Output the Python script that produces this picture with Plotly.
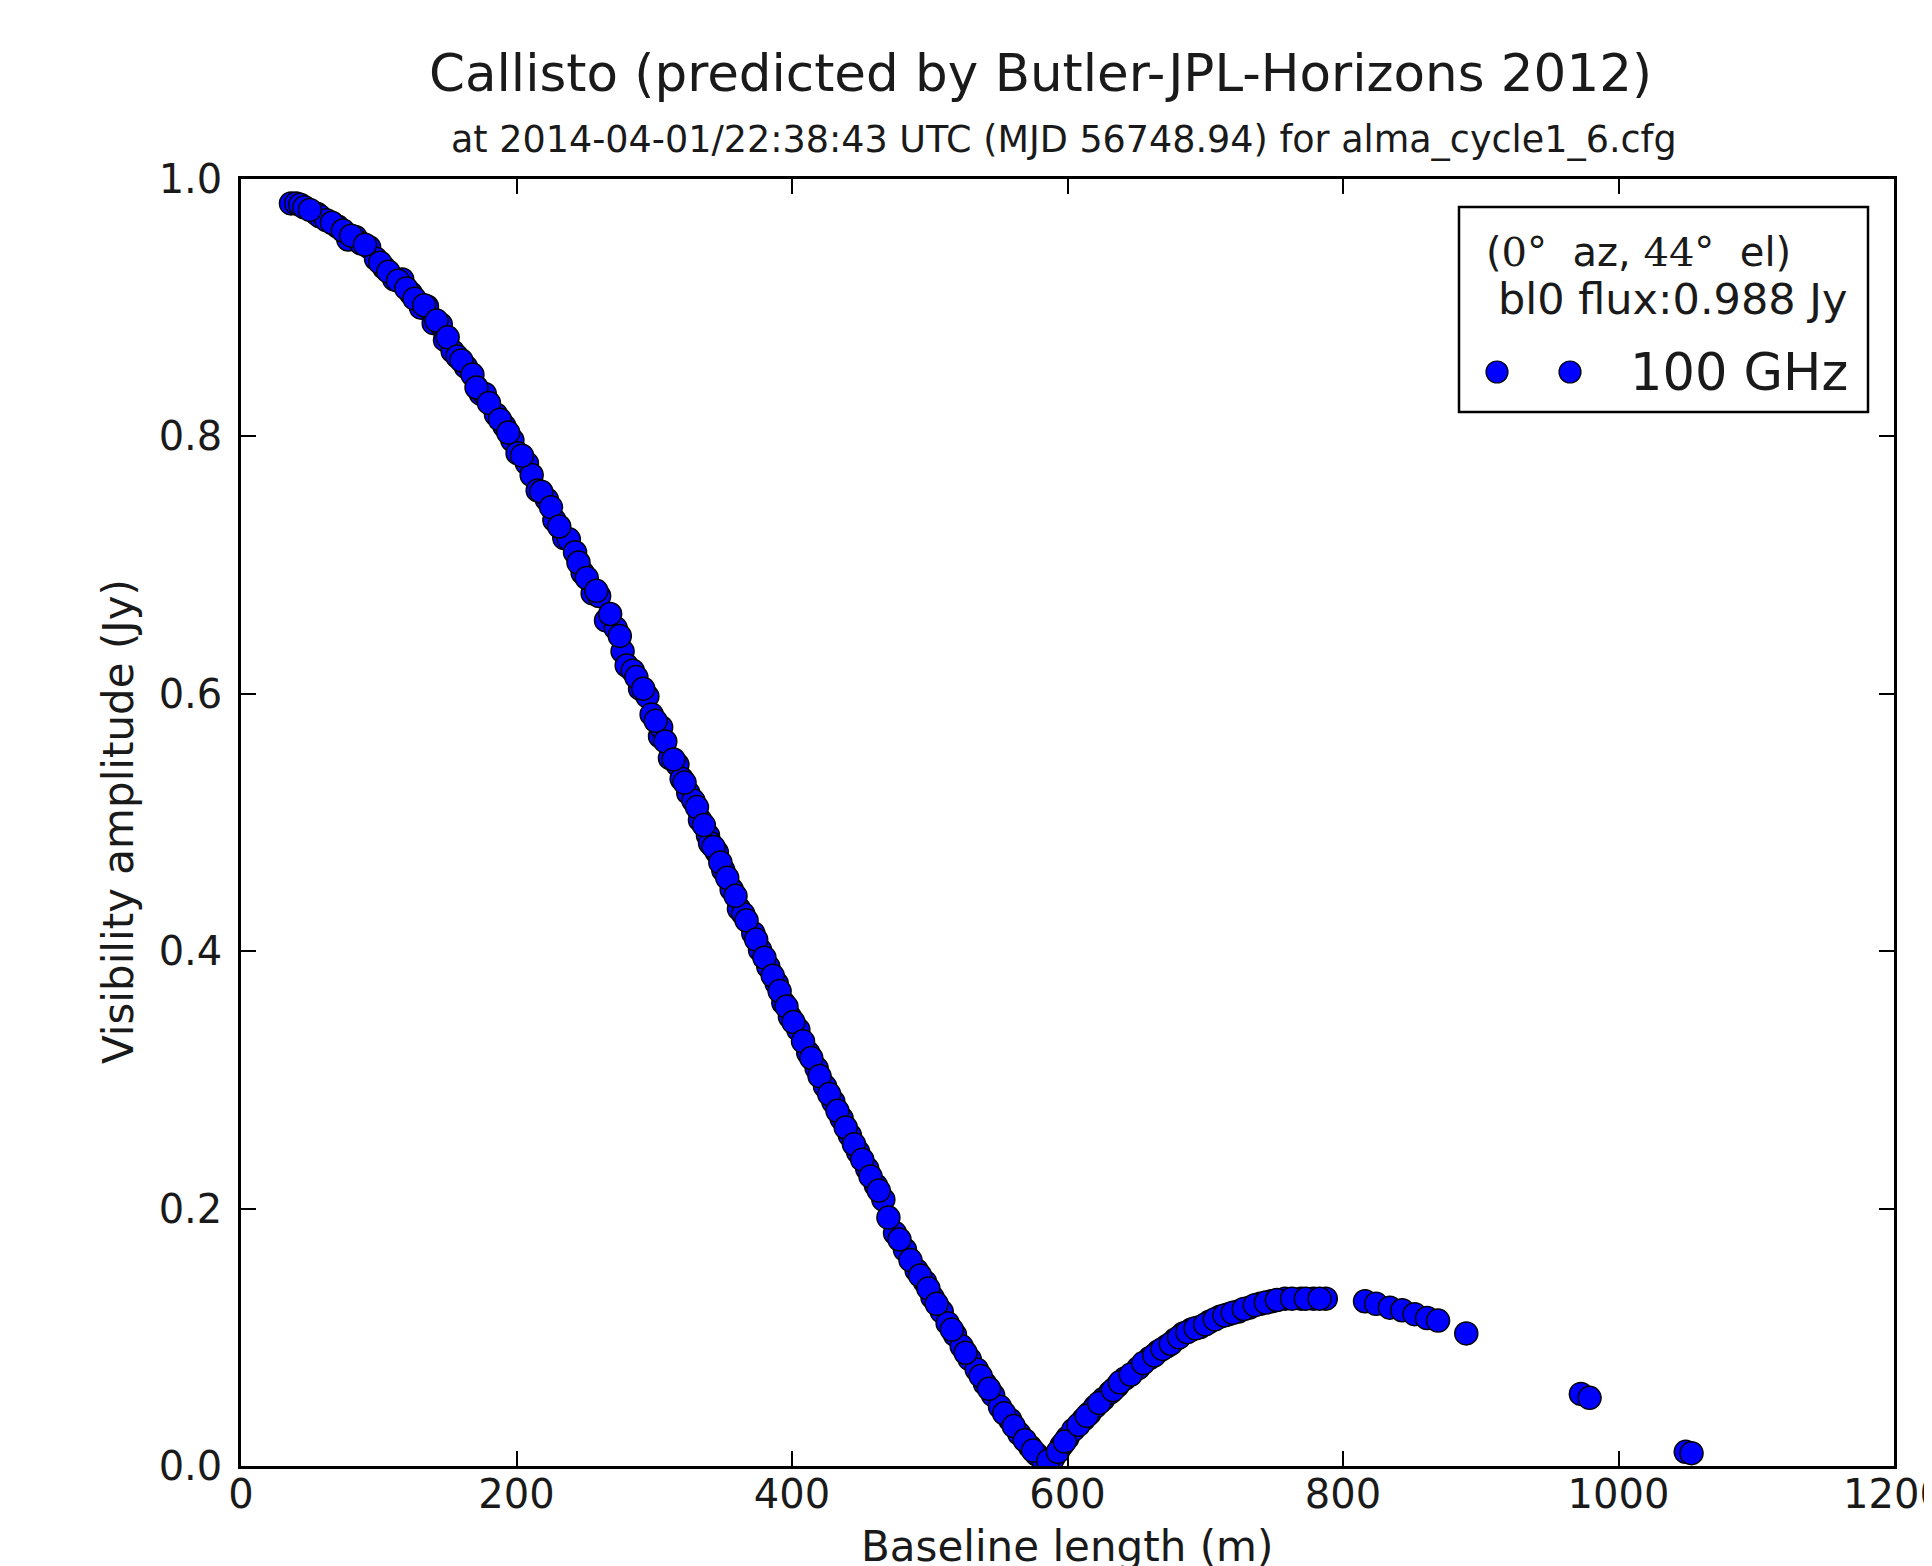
import plotly.graph_objects as go

# ---- data ----
baseline_m = [
    36.3, 40, 43, 55, 57.3, 62, 70.2, 77.9, 83, 87.1, 93, 98, 104, 111.3, 117,
    123.4, 130.7, 135, 139.9, 145, 148.1, 153.7, 163.3, 174.2, 177, 185.1,
    191.2, 197, 200.8, 207.6, 211, 215.4, 222, 227.5, 234.7, 238, 242.5, 248,
    255.3, 260, 265, 272, 277, 280, 284.4, 289.7, 295, 298.1, 304.2, 305,
    311.4, 316.8, 319.9, 324.7, 328.4, 333.2, 339, 340.5, 345.4, 350.1, 356.2,
    361.5, 364.6, 371.9, 376.8, 382.8, 388.9, 393.7, 398.5, 404.6, 411.8,
    417.9, 424, 430, 436, 442, 448, 454.6, 460.9, 466.3, 474.8, 482, 490.5,
    496.6, 502, 508.7, 513, 518.3, 523.2, 529, 534.1, 540.1, 546, 551, 558.3,
    565, 572.8, 577.6, 582, 589.7, 595.8, 600, 604.2, 611.5, 616, 620, 626,
    630.9, 636, 641.7, 651.4, 659.9, 666, 672, 678, 684.1, 690, 696.2, 703,
    710.7, 717, 724, 732, 739.8, 748, 757.9, 769.6, 778.5, 787.5, 816, 824,
    834, 843, 852, 861, 869, 889.5, 972.7, 979, 1048.8, 1053,
    # further baselines in the dense band
    46, 50, 66, 74, 80, 90, 101, 107, 114, 120, 126, 133, 142, 150, 157, 160,
    168, 171, 180, 188, 194, 204, 218, 225, 231, 245, 251, 258, 268, 275, 287,
    292, 301, 308, 314, 322, 331, 336, 343, 348, 353, 359, 367, 374, 380, 386,
    391, 396, 401, 408, 414, 420, 427, 433, 439, 445, 451, 457, 463, 470, 478,
    486, 493, 499, 505, 516, 526, 537, 543, 554, 561, 569, 575, 586, 593, 598,
    608, 614, 623, 633, 638, 646, 655, 663, 669, 675, 681, 687, 693, 700, 707,
    714, 720, 728, 736, 744, 752, 763, 773, 783,
]
amplitude_jy = [
    0.981, 0.981, 0.980, 0.973, 0.971, 0.968, 0.963, 0.953, 0.955, 0.950,
    0.947, 0.938, 0.931, 0.922, 0.922, 0.911, 0.900, 0.901, 0.888, 0.887,
    0.875, 0.866, 0.854, 0.833, 0.833, 0.817, 0.808, 0.797, 0.787, 0.779,
    0.770, 0.758, 0.751, 0.735, 0.721, 0.720, 0.710, 0.694, 0.678, 0.676,
    0.657, 0.651, 0.633, 0.622, 0.618, 0.604, 0.598, 0.584, 0.567, 0.574,
    0.550, 0.545, 0.534, 0.523, 0.517, 0.502, 0.490, 0.484, 0.477, 0.463,
    0.448, 0.433, 0.429, 0.414, 0.401, 0.388, 0.375, 0.360, 0.349, 0.339,
    0.321, 0.309, 0.295, 0.283, 0.270, 0.257, 0.244, 0.231, 0.218, 0.207,
    0.181, 0.168, 0.152, 0.143, 0.131, 0.120, 0.111, 0.102, 0.093, 0.083,
    0.075, 0.064, 0.055, 0.046, 0.036, 0.025, 0.015, 0.009, 0.005, 0.006,
    0.016, 0.022, 0.028, 0.036, 0.041, 0.046, 0.052, 0.057, 0.062, 0.068,
    0.076, 0.084, 0.089, 0.093, 0.098, 0.103, 0.106, 0.108, 0.112, 0.116,
    0.118, 0.120, 0.123, 0.126, 0.128, 0.130, 0.130, 0.130, 0.130, 0.128,
    0.126, 0.123, 0.121, 0.118, 0.115, 0.113, 0.103, 0.056, 0.053, 0.011,
    0.010,
    # further amplitudes in the dense band
    0.978, 0.976, 0.966, 0.960, 0.956, 0.949, 0.935, 0.928, 0.921, 0.915,
    0.907, 0.902, 0.890, 0.877, 0.862, 0.859, 0.848, 0.838, 0.826, 0.813,
    0.803, 0.785, 0.757, 0.745, 0.730, 0.702, 0.690, 0.680, 0.662, 0.645,
    0.613, 0.604, 0.579, 0.563, 0.549, 0.531, 0.512, 0.498, 0.481, 0.469,
    0.457, 0.443, 0.424, 0.409, 0.395, 0.381, 0.369, 0.357, 0.345, 0.330,
    0.317, 0.303, 0.289, 0.276, 0.263, 0.250, 0.238, 0.225, 0.214, 0.193,
    0.176, 0.160, 0.148, 0.138, 0.126, 0.106, 0.088, 0.070, 0.060, 0.041,
    0.031, 0.020, 0.012, 0.004, 0.011, 0.019, 0.032, 0.039, 0.049, 0.059,
    0.065, 0.071, 0.080, 0.086, 0.091, 0.095, 0.100, 0.104, 0.107, 0.110,
    0.114, 0.117, 0.119, 0.122, 0.125, 0.127, 0.129, 0.130, 0.130, 0.130,
]

x_ticks = [0, 200, 400, 600, 800, 1000, 1200]
y_ticks = [0.0, 0.2, 0.4, 0.6, 0.8, 1.0]
series_name = "100 GHz"
title_text = "Callisto (predicted by Butler-JPL-Horizons 2012)"
subtitle_text = "at 2014-04-01/22:38:43 UTC (MJD 56748.94) for alma_cycle1_6.cfg"
legend_line1 = ("(<span style=\"font-family:'DejaVu Serif'\">0</span>°  az, "
                "<span style=\"font-family:'DejaVu Serif'\">44</span>°  el)")
legend_line2 = "bl0 flux:0.988 Jy"

# ---- layout geometry (screenshot pixels; page body adds an 8px offset) ----
W, H = 1932, 1566
OFF = 8
L, R, T, B = 241, 1894, 179, 1466
FONT = "DejaVu Sans"


def px(xp):
    return (xp - L) / (R - L)


def py(yp):
    return (B - yp) / (B - T)


fig = go.Figure()
fig.add_trace(go.Scatter(
    x=baseline_m, y=amplitude_jy, mode="markers", name=series_name,
    marker=dict(size=23, color="#0000ff", line=dict(color="black", width=1.5)),
    showlegend=False,
))

axis_common = dict(
    showgrid=False, zeroline=False, showline=True, linecolor="black",
    linewidth=2.5, mirror="ticks", ticks="inside", ticklen=15, tickwidth=1.5,
    tickcolor="black", tickfont=dict(family=FONT, size=40, color="#1a1a1a"),
    ticklabeloverflow="allow",
)

fig.update_xaxes(range=[0, 1200], tickvals=x_ticks,
                 ticktext=[str(v) for v in x_ticks], ticklabelstandoff=-9,
                 **axis_common)
fig.update_yaxes(range=[0, 1.0], tickvals=y_ticks,
                 ticktext=[f"{v:.1f}" for v in y_ticks], ticklabelstandoff=8,
                 **axis_common)

annotations = [
    dict(text=title_text, x=px(1040), y=py(73), xref="paper", yref="paper",
         showarrow=False, xanchor="center", yanchor="middle",
         font=dict(family=FONT, size=51.5, color="#1a1a1a")),
    dict(text=subtitle_text, x=px(1064), y=py(139), xref="paper", yref="paper",
         showarrow=False, xanchor="center", yanchor="middle",
         font=dict(family=FONT, size=36.5, color="#1a1a1a")),
    dict(text="Baseline length (m)", x=px(1067), y=py(1546), xref="paper",
         yref="paper", showarrow=False, xanchor="center", yanchor="middle",
         font=dict(family=FONT, size=42, color="#1a1a1a")),
    dict(text="Visibility amplitude (Jy)", x=px(118), y=py(822), xref="paper",
         yref="paper", showarrow=False, xanchor="center", yanchor="middle",
         textangle=-90, font=dict(family=FONT, size=42, color="#1a1a1a")),
    # legend texts
    dict(text=legend_line1, x=px(1484), y=py(252), xref="paper", yref="paper",
         showarrow=False, xanchor="left", yanchor="middle",
         font=dict(family=FONT, size=40, color="#1a1a1a")),
    dict(text=legend_line2, x=px(1496), y=py(299), xref="paper", yref="paper",
         showarrow=False, xanchor="left", yanchor="middle",
         font=dict(family=FONT, size=43, color="#1a1a1a")),
    dict(text=series_name, x=px(1628), y=py(372), xref="paper", yref="paper",
         showarrow=False, xanchor="left", yanchor="middle",
         font=dict(family=FONT, size=51, color="#1a1a1a")),
]

shapes = [
    dict(type="rect", xref="paper", yref="paper", x0=px(1459), x1=px(1868),
         y0=py(207), y1=py(412), line=dict(color="black", width=2.5),
         fillcolor="white", layer="above"),
]
for cx in (1497, 1570):
    shapes.append(dict(
        type="circle", xref="paper", yref="paper", xsizemode="pixel",
        ysizemode="pixel", xanchor=px(cx), yanchor=py(372),
        x0=-11, x1=11, y0=-11, y1=11, fillcolor="#0000ff",
        line=dict(color="black", width=1.2), layer="above"))

fig.update_layout(
    width=W, height=H,
    margin=dict(l=L - OFF, r=W - (R - OFF), t=T - OFF, b=H - (B - OFF),
                autoexpand=False),
    paper_bgcolor="white", plot_bgcolor="white",
    annotations=annotations, shapes=shapes, showlegend=False,
)

fig.write_html("out.html")
